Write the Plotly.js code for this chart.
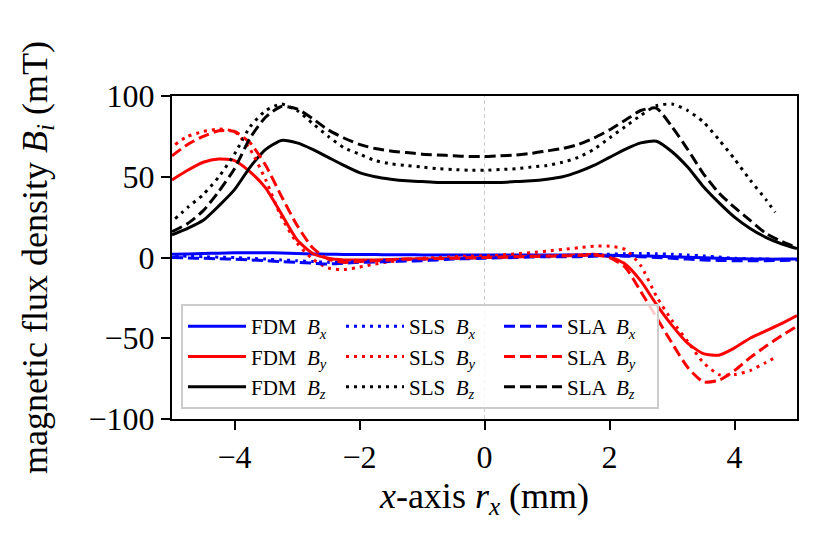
<!DOCTYPE html>
<html>
<head>
<meta charset="utf-8">
<script src="https://cdn.plot.ly/plotly-3.0.1.min.js"></script>
<style>
  html, body { margin: 0; padding: 0; background: #fff; }
  #plot { width: 830px; height: 543px; }
</style>
</head>
<body>
<div id="plot"></div>
<script>
// x positions (mm) for the FDM and SLA scans
const xPos = [-5, -4.75, -4.5, -4.25, -4, -3.75, -3.5, -3.25, -3, -2.75, -2.5, -2.25, -2, -1.75, -1.5, -1.25, -1, -0.75, -0.5, -0.25,
    0, 0.25, 0.5, 0.75, 1, 1.25, 1.5, 1.75, 2, 2.25, 2.5, 2.75, 3, 3.25, 3.5, 3.75, 4, 4.25, 4.5, 4.75, 5];
// the SLS scan is a little shorter
const xSls = [-4.95, -4.75, -4.5, -4.25, -4, -3.75, -3.5, -3.25, -3, -2.75, -2.5, -2.25, -2, -1.75, -1.5, -1.25, -1, -0.75, -0.5, -0.25,
    0, 0.25, 0.5, 0.75, 1, 1.25, 1.5, 1.75, 2, 2.25, 2.5, 2.75, 3, 3.25, 3.5, 3.75, 4, 4.25, 4.5, 4.65];

// FDM (mT)
const fdmBx = [2, 2.2, 2.5, 2.7, 2.9, 3, 3, 2.8, 2.5, 2.2, 2, 1.9, 1.8, 1.8, 1.7, 1.7, 1.6, 1.6, 1.5, 1.5,
    1.5, 1.5, 1.5, 1.5, 1.5, 1.5, 1.5, 1.5, 1.4, 1.2, 1, 0.7, 0.4, 0.1, -0.2, -0.5, -0.7, -0.9, -1, -1, -1];
const fdmBy = [48, 54, 59, 61, 60, 53, 43, 27, 11, 2.5, -0.5, -1.5, -1.5, -1.5, -1.2, -1, -1, -0.8, -0.5, -0.3,
    0, 0.2, 0.5, 0.8, 1, 1.2, 1.5, 2, 0.5, -4, -14.5, -29, -42, -53, -59.5, -60.5, -56, -50, -45.5, -41, -36];
const fdmBz = [14, 18, 23, 32, 42, 56, 67, 72.5, 71, 67, 62, 57, 52.5, 50, 48.5, 47.5, 47, 46.5, 46.5, 46.5,
    46.5, 46.5, 47, 47.5, 48.5, 50, 53, 57, 62, 67, 71, 72, 65.5, 56, 44, 34, 25, 18, 12.5, 8.5, 5.5];

// SLS (mT)
const slsBx = [1, 0.8, 0.5, 0.2, 0, -0.5, -1, -1.5, -2, -2.5, -3, -3, -2.5, -2, -1.5, -1.2, -1, -0.7, -0.5, -0.2,
    0, 0.3, 0.5, 0.8, 1, 1.3, 1.5, 1.8, 2, 2.3, 2.5, 2.3, 2, 1.5, 1, 0.3, -0.5, -0.8, -1, -1];
const slsBy = [70, 75, 78, 79.5, 78, 67, 48, 25, 9, -1, -6.5, -7.5, -6, -4, -2.5, -1.5, -0.5, 0, 0.5, 0.8,
    1, 1.5, 2.3, 3, 4, 5, 6, 7, 7, 5, -5, -24, -39, -52, -65, -72.5, -72.5, -70, -65, -62];
const slsBz = [24, 31, 39, 50, 64, 81, 91, 95, 91, 83, 75, 68, 64, 60, 58, 57, 56, 55, 54.5, 54,
    54, 54.5, 55, 56, 57, 59, 62, 67, 74, 81, 88, 94, 95, 91, 84, 73, 61, 48, 36, 28];

// SLA (mT)
const slaBx = [0, -0.3, -0.5, -0.8, -1, -1.5, -2, -2.5, -3, -3.5, -4, -3.5, -3, -2.8, -2.5, -2.2, -2, -1.5, -1, -0.7,
    -0.5, -0.2, 0, 0.3, 0.5, 0.5, 0.5, 0.8, 1, 0.8, 0.5, 0, -0.5, -1, -1.5, -1.8, -2, -2, -2, -1.8, -1.5];
const slaBy = [63, 70, 75, 78.5, 78, 71, 57, 38, 20, 6, -1, -3, -2.5, -2, -1.5, -1, -0.8, -0.6, -0.5, -0.2,
    0, 0.2, 0.4, 0.6, 0.8, 1, 1.2, 1.5, 0, -6, -21, -37, -53, -68, -77, -76, -70, -62, -55, -48.5, -42.5];
const slaBz = [16, 21, 29, 41, 55, 74, 87, 93.5, 92, 86, 79, 74, 70, 67.5, 66, 65, 64, 63.5, 63, 62.5,
    62.5, 63, 63.5, 64.5, 66, 67.5, 70, 74, 79, 85, 91, 92.5, 81, 67, 52, 40, 31, 23, 15, 10, 6];

const xTicks = [-4, -2, 0, 2, 4];
const yTicks = [-100, -50, 0, 50, 100];

const FONT = 'Liberation Serif, Times New Roman, serif';
const BLUE = '#0000ff', RED = '#ff0000', BLACK = '#000000';
const DOT = '3px,5px', DASH = '11px,5px';

function curve(x, y, name, color, dash, rank) {
    return {
        x: x,
        y: y,
        name: name,
        mode: 'lines',
        line: { color: color, width: 3, dash: dash, shape: 'spline', smoothing: 0.6 },
        legendrank: rank,
        hoverinfo: 'skip'
    };
}

const comp = (c) => '<i>B</i><sub><i>' + c + '</i></sub>';

const traces = [
    curve(xPos, fdmBx, 'FDM  ' + comp('x'), BLUE, 'solid', 1),
    curve(xPos, fdmBy, 'FDM  ' + comp('y'), RED, 'solid', 4),
    curve(xPos, fdmBz, 'FDM  ' + comp('z'), BLACK, 'solid', 7),
    curve(xSls, slsBx, 'SLS  ' + comp('x'), BLUE, DOT, 2),
    curve(xSls, slsBy, 'SLS  ' + comp('y'), RED, DOT, 5),
    curve(xSls, slsBz, 'SLS  ' + comp('z'), BLACK, DOT, 8),
    curve(xPos, slaBx, 'SLA  ' + comp('x'), BLUE, DASH, 3),
    curve(xPos, slaBy, 'SLA  ' + comp('y'), RED, DASH, 6),
    curve(xPos, slaBz, 'SLA  ' + comp('z'), BLACK, DASH, 9)
];

const axisStyle = {
    showline: true,
    mirror: true,
    linecolor: 'black',
    linewidth: 2,
    ticks: 'outside',
    ticklen: 9,
    tickwidth: 2,
    tickcolor: 'black',
    showgrid: false,
    zeroline: false,
    tickfont: { family: FONT, size: 32, color: 'black' }
};

const layout = {
    width: 830,
    height: 543,
    margin: { l: 172, r: 33, t: 96, b: 124 },
    paper_bgcolor: 'white',
    plot_bgcolor: 'white',
    font: { family: FONT, color: 'black' },
    showlegend: true,
    xaxis: Object.assign({}, axisStyle, {
        range: [-5, 5],
        tickvals: xTicks,
        title: { text: '<i>x</i>-axis <i>r</i><sub><i>x</i></sub> (mm)', font: { family: FONT, size: 36 }, standoff: 8 }
    }),
    yaxis: Object.assign({}, axisStyle, {
        range: [-100, 100],
        tickvals: yTicks,
        title: { text: 'magnetic flux density <i>B</i><sub><i>i</i></sub> (mT)', font: { family: FONT, size: 36 }, standoff: 30 }
    }),
    shapes: [{
        type: 'line', xref: 'x', yref: 'paper', x0: 0, x1: 0, y0: 0, y1: 1,
        line: { color: '#cccccc', width: 1, dash: '4px,3px' }, layer: 'below'
    }],
    legend: {
        orientation: 'h',
        x: 0.0144,
        y: 0.031,
        xanchor: 'left',
        yanchor: 'bottom',
        bgcolor: 'rgba(255,255,255,0.8)',
        bordercolor: '#cccccc',
        borderwidth: 2,
        font: { family: FONT, size: 21, color: 'black' },
        entrywidth: 85,
        entrywidthmode: 'pixels',
        itemwidth: 58,
        traceorder: 'normal',
        tracegroupgap: 0
    }
};

Plotly.newPlot('plot', traces, layout, { displayModeBar: false, staticPlot: true });
</script>
</body>
</html>
